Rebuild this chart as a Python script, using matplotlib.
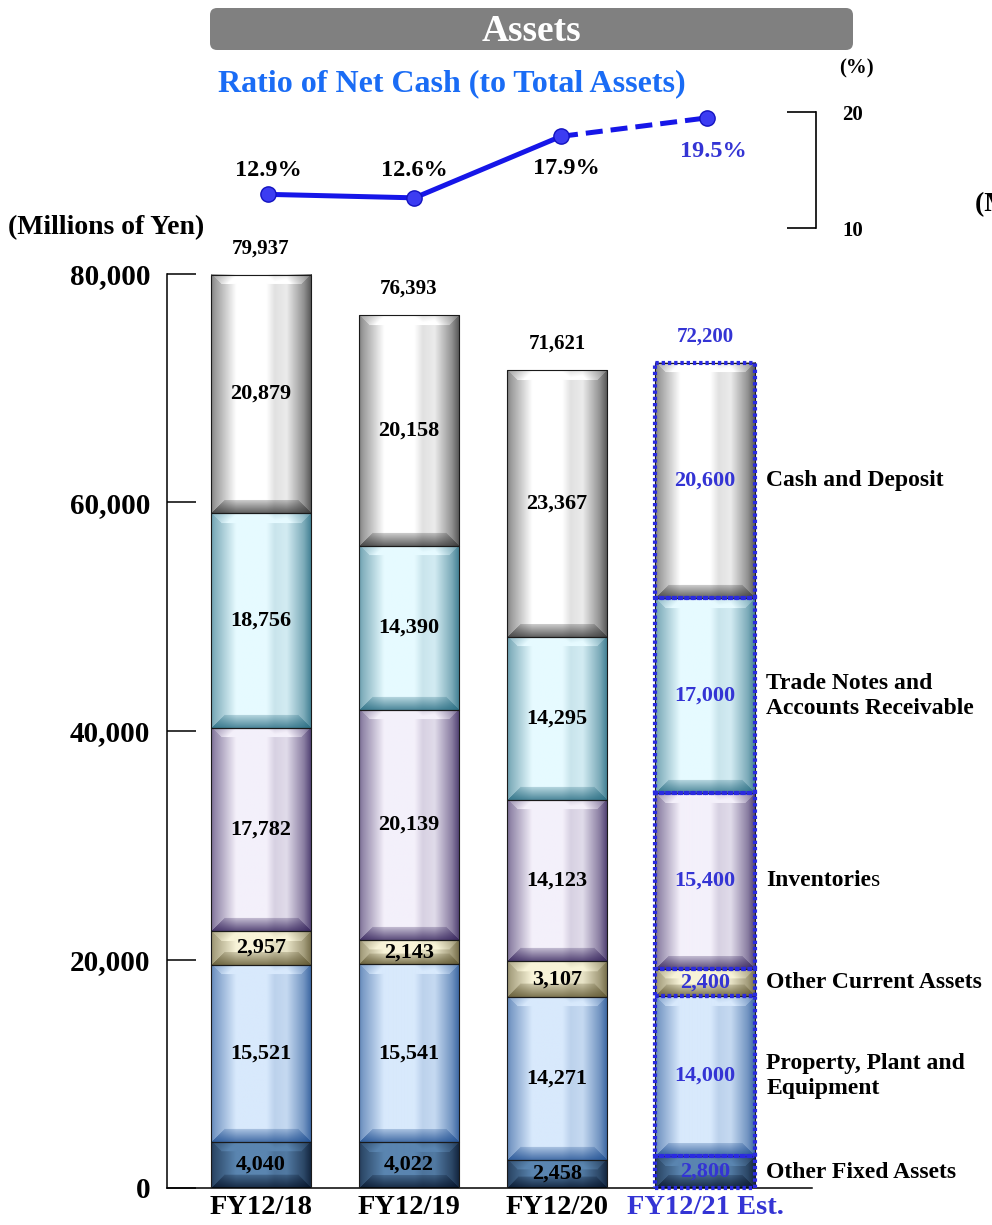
import numpy as np
import matplotlib.pyplot as plt
from matplotlib.colors import to_rgb
from matplotlib.patches import Rectangle, FancyBboxPatch

plt.rcParams['font.family'] = ['Liberation Serif', 'DejaVu Serif']
plt.rcParams['font.weight'] = 'bold'

# data ########################################################################
years = ['FY12/18', 'FY12/19', 'FY12/20', 'FY12/21 Est.']
other_fixed = [4040, 4022, 2458, 2800]
ppe = [15521, 15541, 14271, 14000]
other_current = [2957, 2143, 3107, 2400]
inventories = [17782, 20139, 14123, 15400]
trade = [18756, 14390, 14295, 17000]
cash = [20879, 20158, 23367, 20600]
totals = [79937, 76393, 71621, 72200]
net_cash_ratio = [12.9, 12.6, 17.9, 19.5]
segment_names = ['Other Fixed Assets', 'Property, Plant and\nEquipment',
                 'Other Current Assets', 'Inventories',
                 'Trade Notes and\nAccounts Receivable', 'Cash and Deposit']
###############################################################################

segments = [other_fixed, ppe, other_current, inventories, trade, cash]
# (light, dark) for the glassy fill
seg_colors = [('#5a85b0', '#06142a'),
              ('#d8e9fc', '#1f4f92'),
              ('#f8f4d8', '#5e5530'),
              ('#f4f0fa', '#33215a'),
              ('#e6faff', '#256a80'),
              ('#ffffff', '#383838')]

BLUE_TXT = '#3434d4'
EST_EDGE = '#2a2ae0'

W, H = 992, 1225
fig = plt.figure(figsize=(W / 100, H / 100), dpi=100)

# main stacked bars
ax = fig.add_axes([167 / W, 37 / H, 645 / W, 914 / H])
ax.set_xlim(-0.635, 3.723)
ax.set_ylim(0, 80000)
px_per_val = 914 / 80000
bar_w = 0.676
bar_px = 100


def shade(light, dark, nx, ny):
    light = np.array(to_rgb(light))
    dark = np.array(to_rgb(dark))
    u = (np.arange(nx) + 0.5) / nx
    prof = np.interp(u, [0, 0.04, 0.25, 0.55, 0.63, 0.75, 0.92, 1.0],
                     [0.35, 0.5, 1.0, 1.0, 0.85, 0.9, 0.45, 0.12])
    t = np.tile(prof, (ny, 1))
    i = np.arange(ny)[:, None] + 0.5
    j = np.arange(nx)[None, :] + 0.5
    d_top = i + 0 * j
    d_bot = ny - i + 0 * j
    d_side = np.minimum(j, nx - j) + 0 * i
    bt = min(10, ny / 2.5)
    bb = min(13, ny / 2.5)
    top = (d_top < bt) & (d_top < d_side) & (d_top <= d_bot)
    bot = (d_bot < bb) & (d_bot < d_side) & (d_bot < d_top)
    t_top = np.clip(prof * (0.75 + 0.25 * d_top / bt) + 0.2, 0, 1)
    t_bot = prof * (0.2 + 0.55 * d_bot / bb)
    t = np.where(top, t_top, t)
    t = np.where(bot, t_bot, t)
    return dark + t[..., None] * (light - dark)


x = np.arange(len(years))
bottoms = np.zeros(len(years))
for k, (vals, (light, dark)) in enumerate(zip(segments, seg_colors)):
    vals = np.array(vals, dtype=float)
    for b in range(len(years)):
        y0 = bottoms[b]
        h = vals[b]
        ny = max(int(round(h * px_per_val)), 4)
        img = shade(light, dark, bar_px, ny)
        ax.imshow(img, extent=(x[b] - bar_w / 2, x[b] + bar_w / 2, y0, y0 + h),
                  aspect='auto', interpolation='bilinear', zorder=2)
        ax.add_patch(Rectangle((x[b] - bar_w / 2, y0), bar_w, h, fill=False,
                               edgecolor='#1a1a1a', lw=0.8, zorder=3))
        est = years[b].endswith('Est.')
        if est:
            ax.add_patch(Rectangle((x[b] - bar_w / 2, y0), bar_w, h, fill=False,
                                   edgecolor=EST_EDGE, lw=3.0,
                                   linestyle=(0, (0.8, 0.7)), zorder=4,
                                   clip_on=False))
        ax.text(x[b], y0 + h / 2, f'{int(h):,}', ha='center', va='center',
                fontsize=16, color=BLUE_TXT if est else 'black', zorder=5)
    # category label beside the last bar
    name = segment_names[k]
    yc = bottoms[-1] + vals[-1] / 2
    if name == 'Inventories':
        # the last letter is not bold in the original
        t1 = ax.annotate(name[:-1], xy=(x[-1] + bar_w / 2, yc), xytext=(8, 0),
                         textcoords='offset points', ha='left', va='center',
                         fontsize=17, annotation_clip=False)
        ax.annotate(name[-1], xy=(1, 0), xycoords=t1, ha='left', va='bottom',
                    fontsize=17, fontweight='normal')
    else:
        ax.annotate(name, xy=(x[-1] + bar_w / 2, yc), xytext=(8, 0),
                    textcoords='offset points', ha='left', va='center',
                    fontsize=17, linespacing=1.25, annotation_clip=False)
    bottoms += vals

for b in range(len(years)):
    est = years[b].endswith('Est.')
    ax.annotate(f'{totals[b]:,}', xy=(x[b], bottoms[b]), xytext=(0, 19),
                textcoords='offset points', ha='center', va='center', fontsize=15,
                color=BLUE_TXT if est else 'black', annotation_clip=False)

ax.spines['top'].set_visible(False)
ax.spines['right'].set_visible(False)
ax.spines['left'].set_linewidth(1.1)
ax.spines['bottom'].set_linewidth(1.1)
ax.set_yticks([0, 20000, 40000, 60000, 80000])
ax.set_yticklabels([f'{v:,}' for v in [0, 20000, 40000, 60000, 80000]])
ax.tick_params(axis='y', direction='in', length=21, width=1.1, labelsize=21, pad=12)
ax.set_xticks(x)
ax.set_xticklabels(years)
ax.tick_params(axis='x', length=0, labelsize=20.5, pad=5)
for lab, yr in zip(ax.get_xticklabels(), years):
    if yr.endswith('Est.'):
        lab.set_color(BLUE_TXT)

# net cash ratio line
ax2 = fig.add_axes([167 / W, (H - 228) / H, (816 - 167) / W, 116 / H])
ax2.set_xlim(-(268 - 167) / 146.5, (816 - 268) / 146.5)
ax2.set_ylim(10, 20)
ax2.patch.set_visible(False)
for s in ['top', 'left', 'bottom']:
    ax2.spines[s].set_visible(False)
ax2.spines['right'].set_linewidth(1.2)
ax2.set_xticks([])
ax2.yaxis.tick_right()
ax2.set_yticks([10, 20])
ax2.tick_params(axis='y', direction='in', length=21, width=1.2, labelsize=15, pad=19)
line_c = '#1616e8'
ax2.plot(x[:3], net_cash_ratio[:3], color=line_c, lw=3.6, solid_capstyle='round', zorder=2)
ax2.plot(x[2:], net_cash_ratio[2:], color=line_c, lw=3.6, linestyle=(0, (3.4, 1.6)), zorder=2)
ax2.plot(x, net_cash_ratio, linestyle='none', marker='o', ms=11, mfc='#3c3cf2',
         mec='#1212c0', mew=1.0, zorder=3, clip_on=False)
label_offsets = [17, 20, -23, -24]
for b in range(len(years)):
    est = years[b].endswith('Est.')
    ax2.annotate(f'{net_cash_ratio[b]:.1f}%', xy=(x[b], net_cash_ratio[b]),
                 xytext=(4 if b >= 2 else 0, label_offsets[b]), textcoords='offset points',
                 ha='center', va='center', fontsize=17.5,
                 color=BLUE_TXT if est else 'black', annotation_clip=False)

# header box
axt = fig.add_axes([210 / W, (H - 50) / H, 643 / W, 42 / H])
axt.set_axis_off()
axt.add_patch(FancyBboxPatch((0, 0), 1, 1, boxstyle='round,pad=0,rounding_size=0.011',
                             mutation_aspect=643 / 42, facecolor='#808080',
                             edgecolor='none', transform=axt.transAxes))
axt.text(0.5, 0.44, 'Assets', ha='center', va='center', color='white', fontsize=27)

fig.text(218 / W, 1 - 84 / H, 'Ratio of Net Cash (to Total Assets)', ha='left',
         va='center', fontsize=23, color='#1a6cf5')
fig.text(856 / W, 1 - 68 / H, '(%)', ha='center', va='center', fontsize=15)
fig.text(8 / W, 1 - 228 / H, '(Millions of Yen)', ha='left', va='center', fontsize=20)
fig.text(975 / W, 1 - 205 / H, '(Millions of Yen)', ha='left', va='center', fontsize=20)

plt.savefig('out.png', dpi=100)
